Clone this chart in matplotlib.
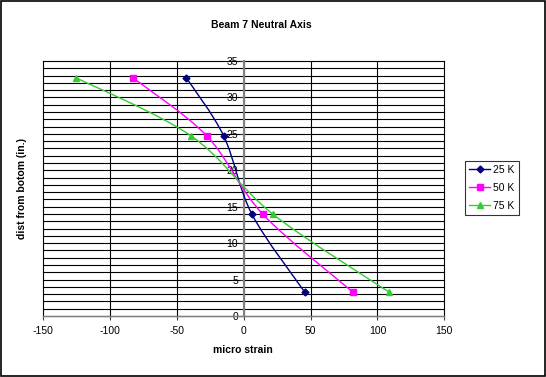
import matplotlib
matplotlib.use("Agg")
import matplotlib.pyplot as plt
import numpy as np
from matplotlib.path import Path
from matplotlib.patches import PathPatch, Rectangle
from matplotlib.lines import Line2D

plt.rcParams['font.family'] = ['Liberation Sans', 'DejaVu Sans']
plt.rcParams['axes.unicode_minus'] = False

# values
depth = [32.7, 24.7, 14.0, 3.3]
strain_25 = [-43, -15, 6, 45.5]
strain_50 = [-83, -27.6, 14.1, 81.5]
strain_75 = [-125.5, -39.3, 21.6, 108.5]
series_names = ['25 K', '50 K', '75 K']
colors = ['#000080', '#ff00ff', '#33cc33']
markers = ['D', 's', '^']
msizes = [3.5, 4, 4.5]


def smooth_path(xs, ys):
    # Catmull-Rom style bezier through the points (like Excel's smoothed line)
    pts = np.column_stack([xs, ys]).astype(float)
    ext = np.vstack([pts[0], pts, pts[-1]])
    verts = [tuple(pts[0])]
    codes = [Path.MOVETO]
    for i in range(len(pts) - 1):
        p0, p1, p2, p3 = ext[i], ext[i + 1], ext[i + 2], ext[i + 3]
        c1 = p1 + (p2 - p0) / 6.0
        c2 = p2 - (p3 - p1) / 6.0
        verts += [tuple(c1), tuple(c2), tuple(p2)]
        codes += [Path.CURVE4] * 3
    return Path(verts, codes)


fig = plt.figure(figsize=(5.46, 3.77), dpi=100)
fig.patches.append(Rectangle((0.001, 0.002), 0.997, 0.995, transform=fig.transFigure,
                             fill=False, edgecolor='black', lw=1.2))
ax = fig.add_axes([0.0793, 0.1618, 0.7344, 0.6764])

ax.set_xlim(-150, 150)
ax.set_ylim(0, 35)
ax.set_xticks(np.arange(-150, 151, 50))
ax.set_yticks(np.arange(0, 36, 5))

# grid: every 1 unit horizontally, every 50 vertically
for yv in np.arange(0, 36, 1):
    ax.axhline(yv, color='black', lw=0.8, zorder=1, clip_on=False)
for xv in np.arange(-150, 151, 50):
    ax.axvline(xv, color='black', lw=0.8, zorder=1, clip_on=False)

for s in ['top', 'right']:
    ax.spines[s].set_visible(False)
ax.spines['left'].set_position(('data', 0))
ax.spines['left'].set_color('#808080')
ax.spines['left'].set_linewidth(1.5)
ax.spines['bottom'].set_color('#808080')
ax.spines['bottom'].set_linewidth(1.0)
ax.spines['left'].set_zorder(2)

ax.tick_params(axis='both', labelsize=7.5, length=3, width=0.8, color='#404040', direction='out')
ax.tick_params(axis='y', pad=1)
ax.tick_params(axis='x', pad=4)

handles = []
for xs, c, m, ms, name in zip([strain_25, strain_50, strain_75], colors, markers, msizes, series_names):
    ax.add_patch(PathPatch(smooth_path(xs, depth), facecolor='none', edgecolor=c, lw=1.0, zorder=3))
    ax.plot(xs, depth, ls='none', marker=m, color=c, markersize=ms, zorder=4)
    handles.append(Line2D([], [], color=c, lw=1.0, marker=m, markersize=ms, label=name))

fig.text(0.479, 0.934, 'Beam 7 Neutral Axis', ha='center', va='center', fontsize=7.5, fontweight='bold')
fig.text(0.445, 0.071, 'micro strain', ha='center', va='center', fontsize=7.5, fontweight='bold')
fig.text(0.041, 0.5, 'dist from botom (in.)', ha='center', va='center', rotation=90, fontsize=7.5, fontweight='bold')

leg = fig.legend(handles=handles, loc='upper left', bbox_to_anchor=(0.852, 0.573),
                 fontsize=7.5, frameon=True, fancybox=False, handlelength=2.0,
                 borderaxespad=0, borderpad=0.4, labelspacing=0.75, handletextpad=0.3)
leg.get_frame().set_edgecolor('black')
leg.get_frame().set_linewidth(0.8)

fig.savefig('out.png', dpi=100)
